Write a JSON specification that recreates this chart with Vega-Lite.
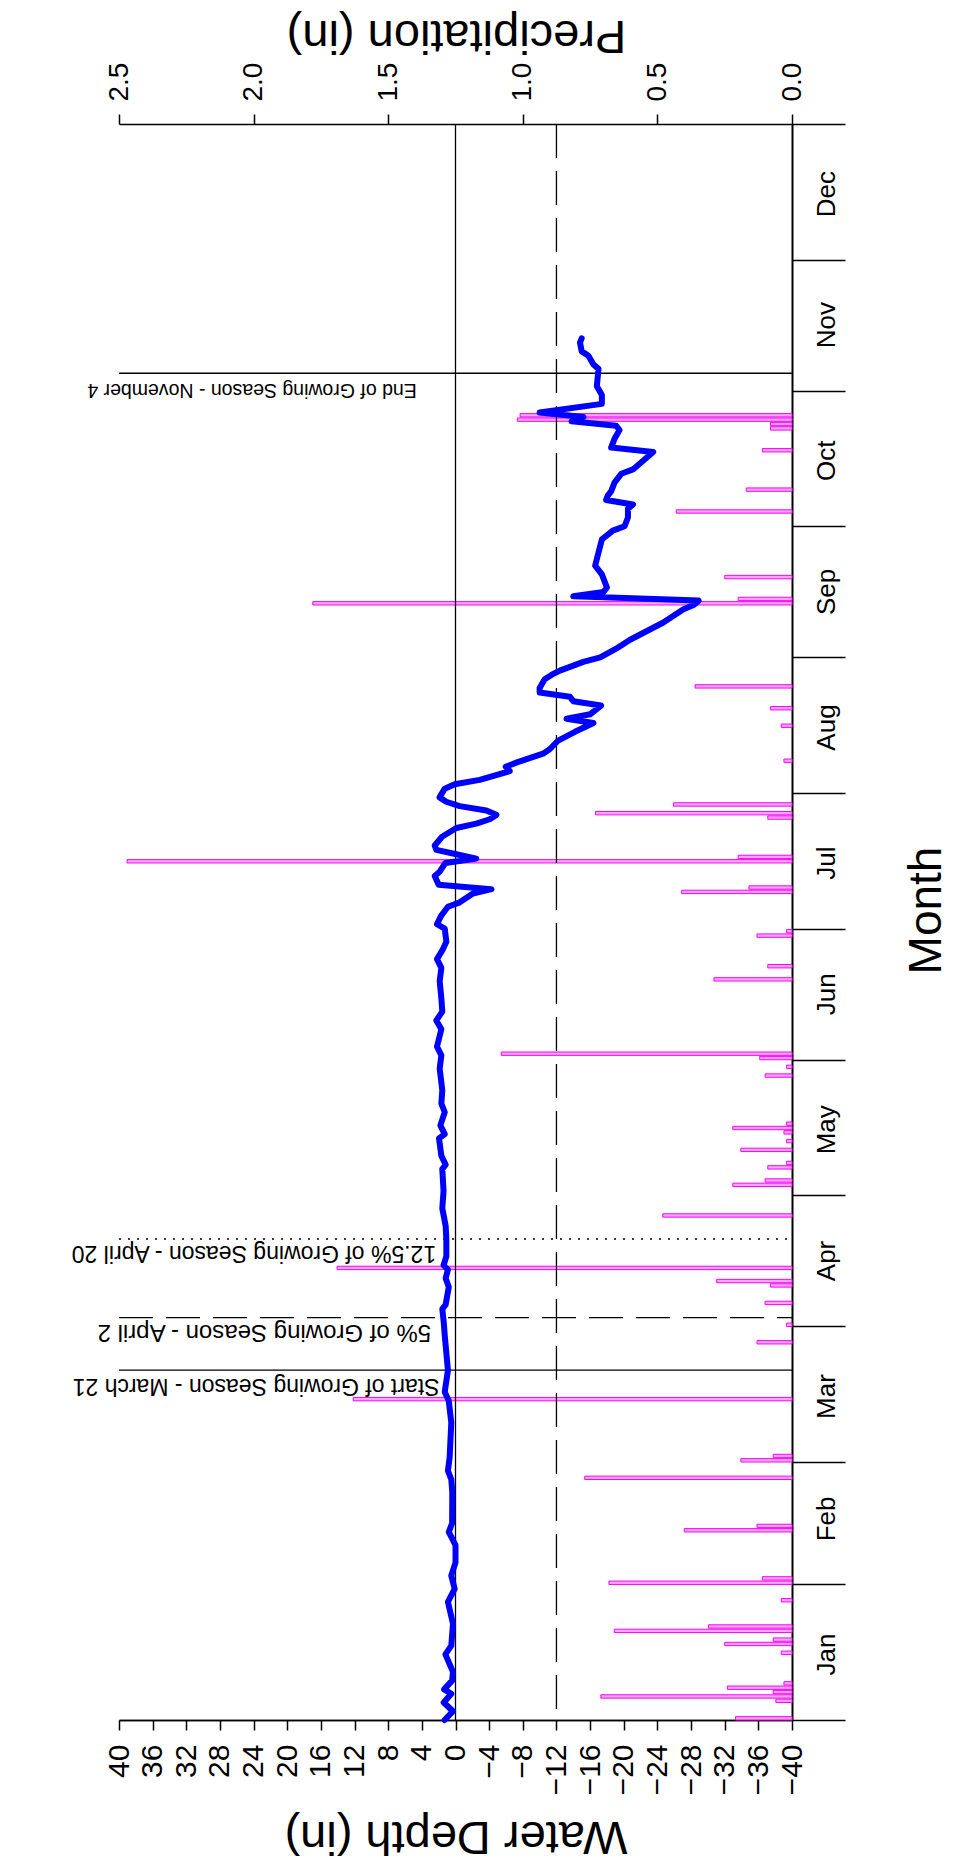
{
  "$schema": "https://vega.github.io/schema/vega-lite/v6.json",
  "width": 673,
  "height": 1596,
  "autosize": {"type": "none"},
  "padding": {"left": 119, "top": 124, "right": 164, "bottom": 144},
  "background": "white",
  "config": {
    "font": "Liberation Sans",
    "view": {"stroke": null},
    "axis": {"grid": false, "labelOverlap": false, "labelFlush": false, "domainColor": "black", "tickColor": "black", "labelColor": "black", "titleColor": "black", "titleFontWeight": "normal", "labelFont": "Liberation Sans", "titleFont": "Liberation Sans"}
  },
  "datasets": {
    "precip": [
      {"date": "2021-01-01", "precip": 0.21}, {"date": "2021-01-05", "precip": 0.06}, {"date": "2021-01-06", "precip": 0.71},
      {"date": "2021-01-07", "precip": 0.07}, {"date": "2021-01-08", "precip": 0.24}, {"date": "2021-01-09", "precip": 0.03},
      {"date": "2021-01-16", "precip": 0.04}, {"date": "2021-01-18", "precip": 0.25}, {"date": "2021-01-19", "precip": 0.07},
      {"date": "2021-01-21", "precip": 0.66}, {"date": "2021-01-22", "precip": 0.31}, {"date": "2021-01-28", "precip": 0.04},
      {"date": "2021-02-01", "precip": 0.68}, {"date": "2021-02-02", "precip": 0.11}, {"date": "2021-02-13", "precip": 0.40},
      {"date": "2021-02-14", "precip": 0.13}, {"date": "2021-02-25", "precip": 0.77}, {"date": "2021-03-01", "precip": 0.19},
      {"date": "2021-03-02", "precip": 0.07}, {"date": "2021-03-15", "precip": 1.63}, {"date": "2021-03-28", "precip": 0.13},
      {"date": "2021-04-01", "precip": 0.02}, {"date": "2021-04-06", "precip": 0.10}, {"date": "2021-04-10", "precip": 0.08},
      {"date": "2021-04-11", "precip": 0.28}, {"date": "2021-04-14", "precip": 1.69}, {"date": "2021-04-26", "precip": 0.48},
      {"date": "2021-05-03", "precip": 0.22}, {"date": "2021-05-04", "precip": 0.10}, {"date": "2021-05-07", "precip": 0.09},
      {"date": "2021-05-08", "precip": 0.02}, {"date": "2021-05-11", "precip": 0.19}, {"date": "2021-05-13", "precip": 0.02},
      {"date": "2021-05-15", "precip": 0.03}, {"date": "2021-05-16", "precip": 0.22}, {"date": "2021-05-17", "precip": 0.02},
      {"date": "2021-05-28", "precip": 0.10}, {"date": "2021-05-30", "precip": 0.02}, {"date": "2021-06-01", "precip": 0.12},
      {"date": "2021-06-02", "precip": 1.08}, {"date": "2021-06-19", "precip": 0.29}, {"date": "2021-06-22", "precip": 0.09},
      {"date": "2021-06-29", "precip": 0.13}, {"date": "2021-06-30", "precip": 0.02}, {"date": "2021-07-09", "precip": 0.41},
      {"date": "2021-07-10", "precip": 0.16}, {"date": "2021-07-16", "precip": 2.47}, {"date": "2021-07-17", "precip": 0.20},
      {"date": "2021-07-26", "precip": 0.09}, {"date": "2021-07-27", "precip": 0.73}, {"date": "2021-07-29", "precip": 0.44},
      {"date": "2021-08-08", "precip": 0.03}, {"date": "2021-08-16", "precip": 0.04}, {"date": "2021-08-20", "precip": 0.08},
      {"date": "2021-08-25", "precip": 0.36}, {"date": "2021-09-13", "precip": 1.78}, {"date": "2021-09-14", "precip": 0.20},
      {"date": "2021-09-19", "precip": 0.25}, {"date": "2021-10-04", "precip": 0.43}, {"date": "2021-10-09", "precip": 0.17},
      {"date": "2021-10-18", "precip": 0.11}, {"date": "2021-10-23", "precip": 0.08}, {"date": "2021-10-24", "precip": 0.08},
      {"date": "2021-10-25", "precip": 1.02}, {"date": "2021-10-26", "precip": 1.01}
    ],
    "depth": [
      {"date": "2021-01-01", "depth": 1.3}, {"date": "2021-01-03", "depth": 0.3}, {"date": "2021-01-05", "depth": 1.4},
      {"date": "2021-01-07", "depth": 0.5}, {"date": "2021-01-08", "depth": 1.35}, {"date": "2021-01-10", "depth": 0.4},
      {"date": "2021-01-12", "depth": 0.3}, {"date": "2021-01-16", "depth": 1.2}, {"date": "2021-01-18", "depth": 0.5},
      {"date": "2021-01-23", "depth": 0.3}, {"date": "2021-01-28", "depth": 0.9}, {"date": "2021-01-31", "depth": 0.1},
      {"date": "2021-02-03", "depth": 0.5}, {"date": "2021-02-06", "depth": 0.0}, {"date": "2021-02-10", "depth": 0.0},
      {"date": "2021-02-13", "depth": 0.8}, {"date": "2021-02-15", "depth": 0.4}, {"date": "2021-02-22", "depth": 0.38},
      {"date": "2021-02-25", "depth": 0.5}, {"date": "2021-02-27", "depth": 0.9}, {"date": "2021-03-02", "depth": 0.7},
      {"date": "2021-03-10", "depth": 0.5}, {"date": "2021-03-15", "depth": 0.8}, {"date": "2021-03-17", "depth": 1.28},
      {"date": "2021-03-22", "depth": 0.9}, {"date": "2021-03-30", "depth": 1.28}, {"date": "2021-04-02", "depth": 1.4},
      {"date": "2021-04-05", "depth": 1.57}, {"date": "2021-04-06", "depth": 1.17}, {"date": "2021-04-10", "depth": 0.8},
      {"date": "2021-04-12", "depth": 1.17}, {"date": "2021-04-14", "depth": 0.9}, {"date": "2021-04-15", "depth": 1.42},
      {"date": "2021-04-17", "depth": 1.09}, {"date": "2021-04-21", "depth": 1.09}, {"date": "2021-04-24", "depth": 1.17},
      {"date": "2021-04-28", "depth": 1.57}, {"date": "2021-05-02", "depth": 1.42}, {"date": "2021-05-07", "depth": 1.57},
      {"date": "2021-05-08", "depth": 1.17}, {"date": "2021-05-10", "depth": 1.68}, {"date": "2021-05-14", "depth": 1.96},
      {"date": "2021-05-15", "depth": 1.28}, {"date": "2021-05-17", "depth": 1.8}, {"date": "2021-05-20", "depth": 1.28},
      {"date": "2021-05-22", "depth": 1.68}, {"date": "2021-05-25", "depth": 1.57}, {"date": "2021-05-30", "depth": 1.88},
      {"date": "2021-06-02", "depth": 1.68}, {"date": "2021-06-04", "depth": 2.2}, {"date": "2021-06-08", "depth": 1.68},
      {"date": "2021-06-10", "depth": 2.28}, {"date": "2021-06-12", "depth": 1.57}, {"date": "2021-06-15", "depth": 1.68},
      {"date": "2021-06-19", "depth": 1.88}, {"date": "2021-06-22", "depth": 1.68}, {"date": "2021-06-24", "depth": 2.2},
      {"date": "2021-06-26", "depth": 1.57}, {"date": "2021-06-28", "depth": 1.09}, {"date": "2021-07-01", "depth": 1.28},
      {"date": "2021-07-02", "depth": 2.2}, {"date": "2021-07-04", "depth": 1.68}, {"date": "2021-07-06", "depth": 0.9},
      {"date": "2021-07-07", "depth": -0.5}, {"date": "2021-07-09", "depth": -2.08}, {"date": "2021-07-10", "depth": -4.27},
      {"date": "2021-07-11", "depth": 2.0}, {"date": "2021-07-13", "depth": 2.47}, {"date": "2021-07-14", "depth": 1.88},
      {"date": "2021-07-16", "depth": 1.2}, {"date": "2021-07-17", "depth": -2.48}, {"date": "2021-07-18", "depth": -0.1},
      {"date": "2021-07-19", "depth": 2.28}, {"date": "2021-07-20", "depth": 2.47}, {"date": "2021-07-22", "depth": 1.6},
      {"date": "2021-07-24", "depth": -0.1}, {"date": "2021-07-25", "depth": -2.48}, {"date": "2021-07-26", "depth": -4.07},
      {"date": "2021-07-27", "depth": -4.86}, {"date": "2021-07-28", "depth": -3.67}, {"date": "2021-07-29", "depth": -0.5},
      {"date": "2021-07-30", "depth": 1.1}, {"date": "2021-07-31", "depth": 1.9}, {"date": "2021-08-02", "depth": 1.28},
      {"date": "2021-08-03", "depth": 0.1}, {"date": "2021-08-04", "depth": -2.88}, {"date": "2021-08-06", "depth": -6.45},
      {"date": "2021-08-07", "depth": -5.97}, {"date": "2021-08-08", "depth": -7.3}, {"date": "2021-08-10", "depth": -10.4},
      {"date": "2021-08-11", "depth": -11.2}, {"date": "2021-08-13", "depth": -12.2}, {"date": "2021-08-15", "depth": -14.2},
      {"date": "2021-08-17", "depth": -16.4}, {"date": "2021-08-18", "depth": -13.2}, {"date": "2021-08-19", "depth": -16.0},
      {"date": "2021-08-21", "depth": -17.3}, {"date": "2021-08-22", "depth": -14.0}, {"date": "2021-08-23", "depth": -13.6},
      {"date": "2021-08-24", "depth": -10.0}, {"date": "2021-08-25", "depth": -10.0}, {"date": "2021-08-27", "depth": -10.6},
      {"date": "2021-08-28", "depth": -11.4}, {"date": "2021-08-29", "depth": -12.4}, {"date": "2021-08-31", "depth": -15.2},
      {"date": "2021-09-01", "depth": -17.2}, {"date": "2021-09-03", "depth": -19.1}, {"date": "2021-09-05", "depth": -20.7},
      {"date": "2021-09-07", "depth": -22.7}, {"date": "2021-09-09", "depth": -24.7}, {"date": "2021-09-12", "depth": -27.1},
      {"date": "2021-09-13", "depth": -28.3}, {"date": "2021-09-14", "depth": -28.9}, {"date": "2021-09-15", "depth": -14.0},
      {"date": "2021-09-16", "depth": -17.6}, {"date": "2021-09-17", "depth": -18.0}, {"date": "2021-09-20", "depth": -17.4},
      {"date": "2021-09-22", "depth": -16.6}, {"date": "2021-09-25", "depth": -17.0}, {"date": "2021-09-28", "depth": -17.4},
      {"date": "2021-09-30", "depth": -18.7}, {"date": "2021-10-01", "depth": -20.1}, {"date": "2021-10-03", "depth": -20.5},
      {"date": "2021-10-05", "depth": -20.5}, {"date": "2021-10-06", "depth": -21.1}, {"date": "2021-10-07", "depth": -17.9},
      {"date": "2021-10-08", "depth": -18.1}, {"date": "2021-10-09", "depth": -18.5}, {"date": "2021-10-11", "depth": -18.9},
      {"date": "2021-10-13", "depth": -19.7}, {"date": "2021-10-14", "depth": -21.1}, {"date": "2021-10-16", "depth": -22.3},
      {"date": "2021-10-18", "depth": -23.5}, {"date": "2021-10-19", "depth": -18.5}, {"date": "2021-10-21", "depth": -18.9},
      {"date": "2021-10-23", "depth": -19.5}, {"date": "2021-10-24", "depth": -19.1}, {"date": "2021-10-25", "depth": -13.8},
      {"date": "2021-10-26", "depth": -15.2}, {"date": "2021-10-27", "depth": -10.0}, {"date": "2021-10-29", "depth": -17.4},
      {"date": "2021-10-31", "depth": -17.4}, {"date": "2021-11-02", "depth": -16.8}, {"date": "2021-11-06", "depth": -17.0},
      {"date": "2021-11-07", "depth": -16.4}, {"date": "2021-11-09", "depth": -15.8}, {"date": "2021-11-10", "depth": -15.0},
      {"date": "2021-11-12", "depth": -14.8}, {"date": "2021-11-13", "depth": -15.0}
    ]
  },
  "layer": [
    {
      "data": {"name": "precip"},
      "mark": {"type": "bar", "orient": "horizontal", "fill": "#f0a8f0", "stroke": "#ff00ff", "strokeWidth": 1},
      "encoding": {
        "x": {
          "field": "precip", "type": "quantitative",
          "scale": {"domain": [0, 2.5], "reverse": true, "nice": false},
          "axis": {
            "orient": "top", "values": [0, 0.5, 1, 1.5, 2, 2.5], "format": ".1f",
            "labelAngle": 270, "labelFontSize": 28, "tickSize": 10, "labelPadding": 13,
            "domainWidth": 1.5, "tickWidth": 1.5, "labelFlush": false, "labelOverlap": false,
            "title": "Precipitation (in)", "titleFontSize": 47, "titleAngle": 180,
            "titleAlign": "center", "titleBaseline": "middle", "titleX": 337, "titleY": -90
          }
        },
        "y": {
          "field": "date", "type": "temporal", "timeUnit": "utcyearmonthdate",
          "scale": {"type": "utc", "domain": [{"year": 2021, "month": 1, "date": 1, "utc": true}, {"year": 2022, "month": 1, "date": 1, "utc": true}]},
          "axis": {
            "orient": "right",
            "values": [
              {"year": 2021, "month": 1, "date": 1, "utc": true}, {"year": 2021, "month": 2, "date": 1, "utc": true},
              {"year": 2021, "month": 3, "date": 1, "utc": true}, {"year": 2021, "month": 4, "date": 1, "utc": true},
              {"year": 2021, "month": 5, "date": 1, "utc": true}, {"year": 2021, "month": 6, "date": 1, "utc": true},
              {"year": 2021, "month": 7, "date": 1, "utc": true}, {"year": 2021, "month": 8, "date": 1, "utc": true},
              {"year": 2021, "month": 9, "date": 1, "utc": true}, {"year": 2021, "month": 10, "date": 1, "utc": true},
              {"year": 2021, "month": 11, "date": 1, "utc": true}, {"year": 2021, "month": 12, "date": 1, "utc": true},
              {"year": 2022, "month": 1, "date": 1, "utc": true}
            ],
            "labelExpr": "utcyear(datum.value) > 2021 ? '' : utcFormat(datum.value, '%b')",
            "tickSize": 53, "tickWidth": 1.5, "domainWidth": 2,
            "labelAngle": 270, "labelAlign": "center", "labelBaseline": "top",
            "labelPadding": -32, "labelOffset": -66, "labelFontSize": 26,
            "labelFlush": false, "labelOverlap": false, "labelBound": false,
            "title": "Month", "titleFontSize": 46, "titleAngle": 270,
            "titleAlign": "center", "titleBaseline": "middle", "titleX": 134, "titleY": 786
          }
        }
      }
    },
    {
      "layer": [
        {
          "data": {"values": [{}]},
          "mark": {"type": "rule", "color": "black", "strokeWidth": 1.3},
          "encoding": {
            "x": {
              "datum": 0, "type": "quantitative",
              "scale": {"domain": [-40, 40], "reverse": true, "nice": false, "zero": false},
              "axis": {
                "orient": "bottom",
                "values": [-40, -36, -32, -28, -24, -20, -16, -12, -8, -4, 0, 4, 8, 12, 16, 20, 24, 28, 32, 36, 40],
                "labelExpr": "datum.value % 8 == 0 ? format(datum.value, 'd') : ''",
                "labelAngle": 270, "labelFontSize": 30, "tickSize": 10, "labelPadding": 14,
                "domainWidth": 1.5, "tickWidth": 1.5, "labelFlush": false, "labelOverlap": false,
                "title": "Water Depth (in)", "titleFontSize": 47, "titleAngle": 180,
                "titleAlign": "center", "titleBaseline": "middle", "titleX": 336.5, "titleY": 115
              }
            }
          }
        },
        {
          "data": {"values": [{}]},
          "mark": {"type": "rule", "color": "black", "strokeWidth": 1.3, "strokeDash": [34, 13]},
          "encoding": {"x": {"datum": -12, "type": "quantitative"}}
        },
        {
          "data": {"values": [{"date": "2021-03-21"}]},
          "mark": {"type": "rule", "color": "black", "strokeWidth": 1.3},
          "encoding": {
            "x": {"datum": 40, "type": "quantitative"},
            "x2": {"datum": -40},
            "y": {"field": "date", "type": "temporal", "timeUnit": "utcyearmonthdate", "bandPosition": 1}
          }
        },
        {
          "data": {"values": [{"date": "2021-04-02"}]},
          "mark": {"type": "rule", "color": "black", "strokeWidth": 1.3, "strokeDash": [34, 13]},
          "encoding": {
            "x": {"datum": 40, "type": "quantitative"},
            "x2": {"datum": -40},
            "y": {"field": "date", "type": "temporal", "timeUnit": "utcyearmonthdate", "bandPosition": 1}
          }
        },
        {
          "data": {"values": [{"date": "2021-04-20"}]},
          "mark": {"type": "rule", "color": "black", "strokeWidth": 1.5, "strokeDash": [2, 7]},
          "encoding": {
            "x": {"datum": 40, "type": "quantitative"},
            "x2": {"datum": -40},
            "y": {"field": "date", "type": "temporal", "timeUnit": "utcyearmonthdate", "bandPosition": 1}
          }
        },
        {
          "data": {"values": [{"date": "2021-11-04"}]},
          "mark": {"type": "rule", "color": "black", "strokeWidth": 1.3},
          "encoding": {
            "x": {"datum": 40, "type": "quantitative"},
            "x2": {"datum": -40},
            "y": {"field": "date", "type": "temporal", "timeUnit": "utcyearmonthdate", "bandPosition": 1}
          }
        },
        {
          "data": {"values": [{"date": "2021-03-21", "label": "Start of Growing Season - March 21"}]},
          "mark": {"type": "text", "angle": 180, "align": "left", "baseline": "alphabetic", "dy": -9, "fontSize": 23, "color": "black"},
          "encoding": {
            "x": {"datum": 1.9, "type": "quantitative"},
            "y": {"field": "date", "type": "temporal", "timeUnit": "utcyearmonthdate", "bandPosition": 1},
            "text": {"field": "label"}
          }
        },
        {
          "data": {"values": [{"date": "2021-04-02", "label": "5% of Growing Season - April 2"}]},
          "mark": {"type": "text", "angle": 180, "align": "left", "baseline": "alphabetic", "dy": -7, "fontSize": 24, "color": "black"},
          "encoding": {
            "x": {"datum": 2.9, "type": "quantitative"},
            "y": {"field": "date", "type": "temporal", "timeUnit": "utcyearmonthdate", "bandPosition": 1},
            "text": {"field": "label"}
          }
        },
        {
          "data": {"values": [{"date": "2021-04-20", "label": "12.5% of Growing Season - April 20"}]},
          "mark": {"type": "text", "angle": 180, "align": "left", "baseline": "alphabetic", "dy": -7, "fontSize": 23, "color": "black"},
          "encoding": {
            "x": {"datum": 2.3, "type": "quantitative"},
            "y": {"field": "date", "type": "temporal", "timeUnit": "utcyearmonthdate", "bandPosition": 1},
            "text": {"field": "label"}
          }
        },
        {
          "data": {"values": [{"date": "2021-11-04", "label": "End of Growing Season - November 4"}]},
          "mark": {"type": "text", "angle": 180, "align": "left", "baseline": "alphabetic", "dy": -11, "fontSize": 19.5, "color": "black"},
          "encoding": {
            "x": {"datum": 4.6, "type": "quantitative"},
            "y": {"field": "date", "type": "temporal", "timeUnit": "utcyearmonthdate", "bandPosition": 1},
            "text": {"field": "label"}
          }
        },
        {
          "data": {"name": "depth"},
          "mark": {"type": "line", "color": "#0000ff", "strokeWidth": 6, "strokeJoin": "round", "strokeCap": "round"},
          "encoding": {
            "x": {"field": "depth", "type": "quantitative"},
            "y": {"field": "date", "type": "temporal"},
            "order": {"field": "date", "type": "temporal"}
          }
        }
      ]
    },
    {
      "data": {"values": [{}]},
      "mark": {"type": "rule", "opacity": 0},
      "encoding": {
        "x": {
          "datum": 0, "type": "quantitative",
          "scale": {"domain": [-40, 40], "reverse": true, "nice": false, "zero": false},
          "axis": {
            "orient": "bottom",
            "values": [-36, -28, -20, -12, -4, 4, 12, 20, 28, 36],
            "format": "d",
            "labelAngle": 270, "labelFontSize": 30, "tickSize": 10, "labelPadding": 14,
            "domainWidth": 1.5, "tickWidth": 1.5, "labelFlush": false, "labelOverlap": false,
            "title": null
          }
        }
      }
    }
  ],
  "resolve": {"scale": {"x": "independent"}, "axis": {"x": "independent"}}
}
